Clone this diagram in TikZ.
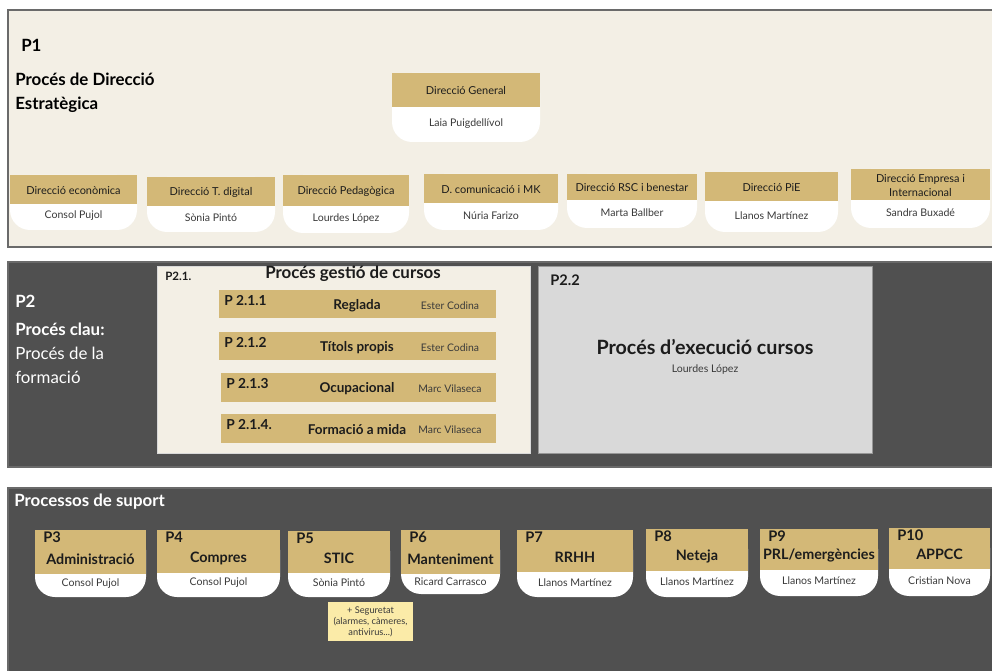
\documentclass[tikz,border=0pt]{standalone}
\usepackage{fontspec}
\setmainfont{Lato}
\usepackage{xcolor}
\usepackage{tikz}

\definecolor{beige}{HTML}{F3EFE5}
\definecolor{darkpanel}{HTML}{505050}
\definecolor{gold}{HTML}{D3B877}
\definecolor{paleg}{HTML}{D9D9D9}
\definecolor{notey}{HTML}{FBEBA8}
\definecolor{ink}{HTML}{1C1C1C}
\definecolor{soft}{HTML}{3A3A3A}
\definecolor{rim}{HTML}{6A6A6A}

\tikzset{% 
  panel/.style={%
    draw=rim,
    line width=0.8pt
  }
}
\tikzset{% 
  big title/.style={%
    font=\fontsize{12}{16.8}\selectfont\bfseries,
    align=left,
    inner sep=0pt
  }
}
\tikzset{% 
  head text/.style={%
    font=\fontsize{7.8}{10}\selectfont,
    text=ink,
    align=center,
    inner sep=0pt
  }
}
\tikzset{% 
  name text/.style={%
    font=\fontsize{7.5}{8}\selectfont,
    text=soft,
    inner sep=0pt
  }
}
\tikzset{% 
  code text/.style={%
    font=\fontsize{10.4}{12}\selectfont\bfseries,
    text=ink,
    inner sep=0pt
  }
}
\tikzset{% 
  sup title/.style={%
    font=\fontsize{10.2}{12}\selectfont\bfseries,
    text=ink,
    inner sep=0pt
  }
}

% card of a direction: gold head over a white body
\newcommand{\dircard}[8]{%
  \fill[white, rounded corners=5mm] (#2,#3) rectangle (#5,#6);
  \fill[gold] (#2,#3) rectangle (#5,#4);
  \node[head text] (#1) at ({(#2+#5)/2},{(#3+#4)/2+1}) {#7};
  \node[name text] (#1 name) at ({(#2+#5)/2},{(#4+#6)/2-1}) {#8};
}
% card of a support process
\newcommand{\supcard}[9]{%
  \fill[white, rounded corners=5mm] (#2,#3) rectangle (#5,#6);
  \fill[gold] (#2,#3) rectangle (#5,#4);
  \node[code text, anchor=north west] (#1) at ({#2+8},{#3+2}) {#7};
  \node[sup title] (#1 title) at ({(#2+#5)/2},{#4-15}) {#8};
  \node[name text] (#1 name) at ({(#2+#5)/2},{(#4+#6)/2-2}) {#9};
}
% row of the course management process
\newcommand{\courserow}[8]{%
  \fill[gold] (#2,#3) rectangle (#4,#5);
  \node[code text, font=\fontsize{9.8}{10}\selectfont\bfseries, anchor=west] (#1) at ({#2+5},{#3+11}) {#6};
  \node[code text, font=\fontsize{9.6}{10}\selectfont\bfseries] (#1 title) at (357,{#3+16}) {#7};
  \node[name text, font=\fontsize{7.4}{8}\selectfont] (#1 name) at ({#4-46},{#3+16}) {#8};
}

\begin{document}
\begin{tikzpicture}[x=0.25mm,y=-0.25mm]
  \clip (0,0) rectangle (992,671);
  \fill[white] (0,0) rectangle (992,671);

  % P1
  \draw[panel, fill=beige] (8,10) rectangle (1000,247);
  \node[big title, anchor=west] (p1) at (21,45) {P1};
  \node[big title, anchor=north west] (p1 name) at (15,73) {Procés de Direcció\\Estratègica};
  \dircard{dg}{392}{73}{107}{540}{142}{Direcció General}{Laia Puigdellívol}
  \dircard{econ}{10}{175}{204}{137}{230}{Direcció econòmica}{Consol Pujol}
  \dircard{digital}{147}{177}{206}{275}{232}{Direcció T. digital}{Sònia Pintó}
  \dircard{ped}{283}{175}{206}{409}{233}{Direcció Pedagògica}{Lourdes López}
  \dircard{com}{424}{174}{203}{558}{230}{D. comunicació i MK}{Núria Farizo}
  \dircard{rsc}{567}{174}{200}{697}{228}{Direcció RSC i benestar}{Marta Ballber}
  \dircard{pie}{705}{172}{201}{838}{232}{Direcció PiE}{Llanos Martínez}
  \dircard{emp}{851}{169}{200}{990}{228}{Direcció Empresa i\\Internacional}{Sandra Buxadé}

  % P2
  \draw[panel, fill=darkpanel] (8,262) rectangle (1000,467);
  \node[big title, text=white, anchor=west] (p2) at (15,301) {P2};
  \node[big title, text=white, anchor=north west, font=\fontsize{12}{17.1}\selectfont] (p2 name) at (15,323)
    {\bfseries Procés clau:\\Procés de la\\formació};
  \draw[draw=paleg, fill=beige] (157,266) rectangle (530,453);
  \node[code text, font=\fontsize{8.2}{9}\selectfont\bfseries, anchor=west] (p21) at (165,276) {P2.1.};
  \node[big title, text=ink, font=\fontsize{12}{12}\selectfont\bfseries] (p21 name) at (353,274) {Procés gestió de cursos};
  \courserow{r1}{219}{290}{496}{318}{P 2.1.1}{Reglada}{Ester Codina}
  \courserow{r2}{219}{332}{496}{360}{P 2.1.2}{Títols propis}{Ester Codina}
  \courserow{r3}{221}{373}{496}{402}{P 2.1.3}{Ocupacional}{Marc Vilaseca}
  \courserow{r4}{221}{414}{496}{443}{P 2.1.4.}{Formació a mida}{Marc Vilaseca}
  \draw[draw=rim!70, fill=paleg] (538,266) rectangle (872,453);
  \node[code text, font=\fontsize{10.4}{10}\selectfont\bfseries, anchor=west] (p22) at (550,280) {P2.2};
  \node[big title, text=ink, font=\fontsize{14}{14}\selectfont\bfseries] (p22 name) at (705,347) {Procés d’execució cursos};
  \node[name text] (p22 person) at (705,370) {Lourdes López};

  % suport
  \draw[panel, fill=darkpanel] (8,488) rectangle (1000,690);
  \node[big title, text=white, anchor=west, font=\fontsize{12}{12}\selectfont\bfseries] (p3x) at (14,502) {Processos de suport};
  \supcard{p3}{35}{530}{574}{146}{597}{P3}{Administració}{Consol Pujol}
  \supcard{p4}{157}{530}{573}{280}{597}{P4}{Compres}{Consol Pujol}
  \supcard{p5}{288}{531}{573}{390}{597}{P5}{STIC}{Sònia Pintó}
  \supcard{p6}{401}{530}{574}{500}{594}{P6}{Manteniment}{Ricard Carrasco}
  \supcard{p7}{517}{530}{572}{633}{597}{P7}{RRHH}{Llanos Martínez}
  \supcard{p8}{646}{529}{571}{748}{597}{P8}{Neteja}{Llanos Martínez}
  \supcard{p9}{760}{529}{570}{878}{596}{P9}{PRL/emergències}{Llanos Martínez}
  \supcard{p10}{889}{528}{569}{990}{596}{P10}{APPCC}{Cristian Nova}
  \node[fill=notey, minimum width=21.25mm, minimum height=9.75mm, inner sep=0pt, align=center,
    font=\fontsize{6.6}{7.9}\selectfont, text=soft] (note) at (370.5,621.5)
    {+ Seguretat\\(alarmes, càmeres,\\antivirus...)};
\end{tikzpicture}
\end{document}
